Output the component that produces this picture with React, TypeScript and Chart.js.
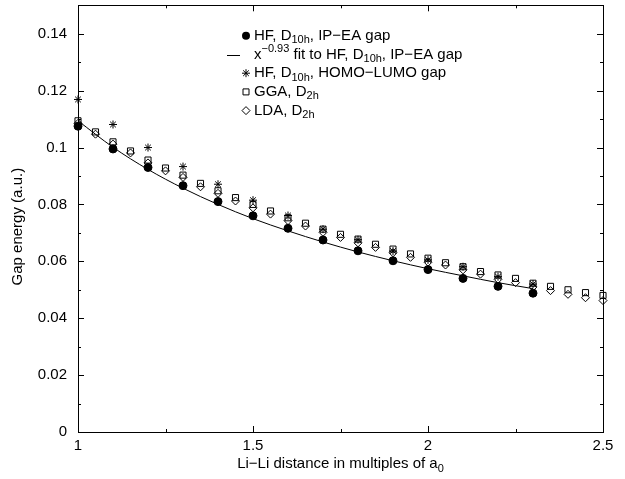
import React, { useEffect, useRef } from 'react';
import { Chart, registerables } from 'chart.js';

Chart.register(...registerables);

// ---- data ----
const hfX = [1.0, 1.1, 1.2, 1.3, 1.4, 1.5, 1.6, 1.7, 1.8, 1.9, 2.0, 2.1, 2.2, 2.3];
const hfIpEaGap = [0.1075, 0.0995, 0.093, 0.0866, 0.081, 0.076, 0.0716, 0.0675, 0.0637, 0.0602, 0.0571, 0.054, 0.0512, 0.0488];
const fitGap = [0.1094, 0.1001, 0.0923, 0.0857, 0.08, 0.075, 0.0707, 0.0668, 0.0633, 0.0602, 0.0574, 0.0549, 0.0525, 0.0504];
const homoLumoGap = [0.1169, 0.1081, 0.1, 0.0933, 0.0871, 0.0815, 0.0761, 0.0713, 0.0676, 0.0636, 0.0605, 0.0581, 0.0546, 0.052];
const dftX = [1.0, 1.05, 1.1, 1.15, 1.2, 1.25, 1.3, 1.35, 1.4, 1.45, 1.5, 1.55, 1.6, 1.65, 1.7, 1.75, 1.8, 1.85, 1.9, 1.95, 2.0, 2.05, 2.1, 2.15, 2.2, 2.25, 2.3, 2.35, 2.4, 2.45, 2.5];
const ggaGap = [0.1094, 0.1055, 0.102, 0.0988, 0.0956, 0.0928, 0.0903, 0.0874, 0.0848, 0.0824, 0.08, 0.0777, 0.0753, 0.0734, 0.0713, 0.0695, 0.0678, 0.066, 0.0643, 0.0626, 0.0611, 0.0595, 0.0581, 0.0564, 0.0552, 0.054, 0.0523, 0.0512, 0.05, 0.049, 0.048];
const ldaGap = [0.1085, 0.1047, 0.1012, 0.0981, 0.0946, 0.0918, 0.0895, 0.0862, 0.0839, 0.0812, 0.0788, 0.0766, 0.0743, 0.0724, 0.0702, 0.0684, 0.0665, 0.0649, 0.063, 0.0614, 0.0597, 0.0587, 0.057, 0.0555, 0.0537, 0.0525, 0.051, 0.0497, 0.0484, 0.0472, 0.0462];

const xTicks = [1, 1.5, 2, 2.5];
const xTickLabels = ['1', '1.5', '2', '2.5'];
const xMinorTicks = [1.25, 1.75, 2.25];
const yTicks = [0, 0.02, 0.04, 0.06, 0.08, 0.1, 0.12, 0.14];
const yTickLabels = ['0', '0.02', '0.04', '0.06', '0.08', '0.1', '0.12', '0.14'];
const yMinorTicks = [0.01, 0.03, 0.05, 0.07, 0.09, 0.11, 0.13];

const FONT = '"Liberation Sans", Arial, Helvetica, sans-serif';
const FS = 15;

type Seg = { t: string; sub?: boolean; sup?: boolean };

const legendEntries: { kind: string; segs: Seg[] }[] = [
  { kind: 'circle', segs: [{ t: 'HF, D' }, { t: '10h', sub: true }, { t: ', IP\u2212EA gap' }] },
  { kind: 'line', segs: [{ t: 'x' }, { t: '\u22120.93', sup: true }, { t: ' fit to HF, D' }, { t: '10h', sub: true }, { t: ', IP\u2212EA gap' }] },
  { kind: 'star', segs: [{ t: 'HF, D' }, { t: '10h', sub: true }, { t: ', HOMO\u2212LUMO gap' }] },
  { kind: 'square', segs: [{ t: 'GGA, D' }, { t: '2h', sub: true }] },
  { kind: 'diamond', segs: [{ t: 'LDA, D' }, { t: '2h', sub: true }] },
];

const xTitle: Seg[] = [{ t: 'Li\u2212Li distance in multiples of a' }, { t: '0', sub: true }];
const yTitle = 'Gap energy (a.u.)';

function segWidth(ctx: CanvasRenderingContext2D, segs: Seg[], size: number) {
  let w = 0;
  for (const s of segs) {
    const fs = s.sub || s.sup ? Math.round(size * 0.7) : size;
    ctx.font = `${fs}px ${FONT}`;
    w += ctx.measureText(s.t).width;
  }
  return w;
}

function drawRich(ctx: CanvasRenderingContext2D, x: number, y: number, segs: Seg[], size: number) {
  let cx = x;
  ctx.textAlign = 'left';
  ctx.textBaseline = 'middle';
  for (const s of segs) {
    const fs = s.sub || s.sup ? Math.round(size * 0.7) : size;
    ctx.font = `${fs}px ${FONT}`;
    const dy = s.sub ? 4.5 : s.sup ? -5.5 : 0;
    ctx.fillText(s.t, cx, y + dy);
    cx += ctx.measureText(s.t).width;
  }
}

function drawMarker(ctx: CanvasRenderingContext2D, kind: string, x: number, y: number) {
  ctx.save();
  ctx.strokeStyle = '#000';
  ctx.fillStyle = '#000';
  ctx.lineWidth = 1;
  ctx.beginPath();
  if (kind === 'circle') {
    ctx.arc(x, y, 4, 0, Math.PI * 2);
    ctx.fill();
  } else if (kind === 'star') {
    const r = 4;
    ctx.moveTo(x - r, y); ctx.lineTo(x + r, y);
    ctx.moveTo(x, y - r); ctx.lineTo(x, y + r);
    const d = r * Math.SQRT1_2;
    ctx.moveTo(x - d, y - d); ctx.lineTo(x + d, y + d);
    ctx.moveTo(x - d, y + d); ctx.lineTo(x + d, y - d);
    ctx.stroke();
  } else if (kind === 'square') {
    ctx.rect(x - 3, y - 3, 6, 6);
    ctx.stroke();
  } else if (kind === 'diamond') {
    ctx.moveTo(x, y - 4); ctx.lineTo(x + 4, y); ctx.lineTo(x, y + 4); ctx.lineTo(x - 4, y); ctx.closePath();
    ctx.stroke();
  }
  ctx.restore();
}

const decorPlugin = {
  id: 'decor',
  afterDraw(chart: any) {
    const ctx: CanvasRenderingContext2D = chart.ctx;
    const { left, right, top, bottom } = chart.chartArea;
    const xs = chart.scales.x;
    const ys = chart.scales.y;
    ctx.save();
    ctx.strokeStyle = '#000';
    ctx.lineWidth = 1;
    // frame
    ctx.strokeRect(Math.round(left) + 0.5, Math.round(top) + 0.5, Math.round(right - left), Math.round(bottom - top));
    // ticks (inward, mirrored)
    ctx.beginPath();
    const xt = (v: number, len: number) => {
      const p = Math.round(xs.getPixelForValue(v)) + 0.5;
      ctx.moveTo(p, bottom); ctx.lineTo(p, bottom - len);
      ctx.moveTo(p, top); ctx.lineTo(p, top + len);
    };
    const yt = (v: number, len: number) => {
      const p = Math.round(ys.getPixelForValue(v)) + 0.5;
      ctx.moveTo(left, p); ctx.lineTo(left + len, p);
      ctx.moveTo(right, p); ctx.lineTo(right - len, p);
    };
    xTicks.forEach((v) => xt(v, 6));
    xMinorTicks.forEach((v) => xt(v, 3));
    yTicks.forEach((v) => yt(v, 6));
    yMinorTicks.forEach((v) => yt(v, 3));
    ctx.stroke();

    // legend
    ctx.fillStyle = '#000';
    const rowY0 = top + 30.5;
    const rowH = 18.7;
    legendEntries.forEach((e, i) => {
      const y = rowY0 + i * rowH;
      if (e.kind === 'line') {
        ctx.beginPath();
        ctx.moveTo(left + 149, Math.round(y) + 0.5);
        ctx.lineTo(left + 162, Math.round(y) + 0.5);
        ctx.stroke();
      } else {
        drawMarker(ctx, e.kind, left + 168, y);
      }
      ctx.fillStyle = '#000';
      drawRich(ctx, left + 176, y, e.segs, FS);
    });

    // x title
    const w = segWidth(ctx, xTitle, FS);
    drawRich(ctx, (left + right) / 2 - w / 2, 464, xTitle, FS);

    // y title
    ctx.save();
    ctx.translate(18, (top + bottom) / 2 + 8);
    ctx.rotate(-Math.PI / 2);
    ctx.font = `${FS}px ${FONT}`;
    ctx.textAlign = 'center';
    ctx.textBaseline = 'middle';
    ctx.fillText(yTitle, 0, 0);
    ctx.restore();

    ctx.restore();
  },
};

export default function App() {
  const ref = useRef<HTMLCanvasElement | null>(null);
  useEffect(() => {
    if (!ref.current) return;
    Chart.defaults.font.family = FONT;
    Chart.defaults.color = '#000';
    const pts = (xs: number[], ys: number[]) => xs.map((x, i) => ({ x, y: ys[i] }));
    const chart = new Chart(ref.current, {
      type: 'scatter',
      data: {
        datasets: [
          {
            label: 'HF, D10h, IP-EA gap',
            data: pts(hfX, hfIpEaGap),
            pointStyle: 'circle',
            pointRadius: 4,
            pointBackgroundColor: '#000',
            pointBorderColor: '#000',
            pointBorderWidth: 1,
            clip: false,
            order: 5,
          },
          {
            label: 'fit',
            data: pts(hfX, fitGap),
            showLine: true,
            pointRadius: 0,
            borderColor: '#000',
            borderWidth: 1,
            cubicInterpolationMode: 'monotone',
            order: 4,
          },
          {
            label: 'HF, D10h, HOMO-LUMO gap',
            data: pts(hfX, homoLumoGap),
            pointStyle: 'star',
            pointRadius: 4,
            pointBorderColor: '#000',
            pointBorderWidth: 1,
            clip: false,
            order: 3,
          },
          {
            label: 'GGA, D2h',
            data: pts(dftX, ggaGap),
            pointStyle: 'rect',
            pointRadius: 4.3,
            pointBackgroundColor: 'rgba(0,0,0,0)',
            pointBorderColor: '#000',
            pointBorderWidth: 1,
            clip: false,
            order: 2,
          },
          {
            label: 'LDA, D2h',
            data: pts(dftX, ldaGap),
            pointStyle: 'rectRot',
            pointRadius: 4,
            pointBackgroundColor: 'rgba(0,0,0,0)',
            pointBorderColor: '#000',
            pointBorderWidth: 1,
            clip: false,
            order: 1,
          },
        ],
      },
      options: {
        animation: false,
        responsive: false,
        devicePixelRatio: 1,
        layout: { padding: { left: 0, right: 22, top: 4, bottom: 0 } },
        plugins: { legend: { display: false }, tooltip: { enabled: false } },
        scales: {
          x: {
            type: 'linear',
            min: 1,
            max: 2.5,
            grid: { display: false, drawTicks: false },
            border: { display: false },
            afterBuildTicks: (s: any) => { s.ticks = xTicks.map((v) => ({ value: v })); },
            afterFit: (s: any) => { s.height = 47; s.paddingLeft = 0; s.paddingRight = 0; s.paddingTop = 0; s.paddingBottom = 0; },
            ticks: {
              font: { size: FS, family: FONT },
              color: '#000',
              padding: 5,
              maxRotation: 0,
              autoSkip: false,
              callback: (v: any) => { const i = xTicks.indexOf(Number(v)); return i >= 0 ? xTickLabels[i] : ''; },
            },
          },
          y: {
            type: 'linear',
            min: 0,
            max: 0.15,
            grid: { display: false, drawTicks: false },
            border: { display: false },
            afterBuildTicks: (s: any) => { s.ticks = yTicks.map((v) => ({ value: v })); },
            afterFit: (s: any) => { s.width = 78; s.paddingLeft = 0; s.paddingRight = 0; s.paddingTop = 0; s.paddingBottom = 0; },
            ticks: {
              font: { size: FS, family: FONT },
              color: '#000',
              padding: 11,
              autoSkip: false,
              callback: (v: any) => { const i = yTicks.findIndex((t) => Math.abs(t - Number(v)) < 1e-9); return i >= 0 ? yTickLabels[i] : ''; },
            },
          },
        },
      },
      plugins: [decorPlugin],
    } as any);
    return () => chart.destroy();
  }, []);
  return (
    <div style={{ position: 'fixed', left: 0, top: 0, width: 625, height: 479, background: '#fff' }}>
      <canvas ref={ref} width={625} height={479} style={{ display: 'block', width: 625, height: 479 }} />
    </div>
  );
}
